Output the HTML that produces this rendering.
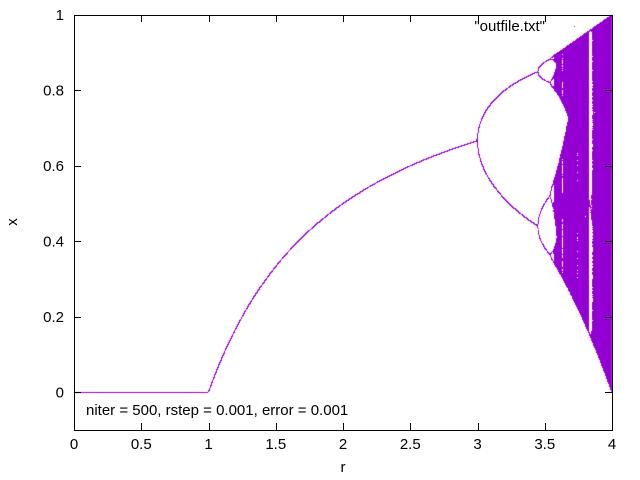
<!DOCTYPE html>
<html><head><meta charset="utf-8">
<style>
html,body{margin:0;padding:0;background:#fff;}
#wrap{position:relative;width:640px;height:480px;font-family:"Liberation Sans",sans-serif;}
svg,canvas{position:absolute;left:0;top:0;}
text{font-family:"Liberation Sans",sans-serif;font-size:15px;fill:#000;}
</style></head>
<body>
<div id="wrap">
<canvas id="cv" width="640" height="480"></canvas>
<svg id="sv" width="640" height="480"></svg>
</div>
<script>
// data parameters (as in the chart annotation)
const rRange = [0, 4];
const rStep = [0.001];
const nIter = [500];
const errTol = [0.001];
const xTicks = [0, 0.5, 1, 1.5, 2, 2.5, 3, 3.5, 4];
const xTickLabels = ["0","0.5","1","1.5","2","2.5","3","3.5","4"];
const yTicks = [0, 0.2, 0.4, 0.6, 0.8, 1];
const yTickLabels = ["0","0.2","0.4","0.6","0.8","1"];
const yRange = [-0.1, 1];

const L=74,R=612,T=15,B=430;
function sx(v){return L+(v-rRange[0])/(rRange[1]-rRange[0])*(R-L);}
function sy(v){return B-(v-yRange[0])/(yRange[1]-yRange[0])*(B-T);}

const cv=document.getElementById('cv');const ctx=cv.getContext('2d');
ctx.fillStyle='#9400d3';
const nR=Math.round((rRange[1]-rRange[0])/rStep[0]);
for(let i=0;i<=nR;i++){
  const r=rRange[0]+i*rStep[0];
  let x=0.5;
  for(let k=0;k<nIter[0];k++){x=r*x*(1-x);}
  const x0=x;
  for(let k=0;k<700;k++){
    x=r*x*(1-x);
    ctx.fillRect(Math.floor(sx(r)),Math.floor(sy(x)),1,1);
    if(k>0 && Math.abs(x-x0)<errTol[0]*0.01) break;
  }
}
ctx.fillRect(574,26,1,1);

const NS='http://www.w3.org/2000/svg';
const sv=document.getElementById('sv');
function mk(tag,attrs,txt){const e=document.createElementNS(NS,tag);for(const k in attrs)e.setAttribute(k,attrs[k]);if(txt!==undefined)e.textContent=txt;sv.appendChild(e);return e;}
let e=mk('rect',{x:L+0.5,y:T+0.5,width:R-L,height:B-T,fill:'none',stroke:'#000','stroke-width':1});


xTicks.forEach((v,i)=>{
  const X=Math.round(sx(v))+0.5;
  let t=mk('line',{x1:X,y1:B,x2:X,y2:B-7,stroke:'#000'});
  
  
  let t2=mk('line',{x1:X,y1:T,x2:X,y2:T+7,stroke:'#000'});
  
  
  let l=mk('text',{x:sx(v),y:B+19,'text-anchor':'middle'},xTickLabels[i]);
  
  
});
yTicks.forEach((v,i)=>{
  const Y=Math.round(sy(v))+0.5;
  let t=mk('line',{x1:L,y1:Y,x2:L+7,y2:Y,stroke:'#000'});
  
  
  let t2=mk('line',{x1:R,y1:Y,x2:R-7,y2:Y,stroke:'#000'});
  
  
  let l=mk('text',{x:L-10,y:sy(v)+5,'text-anchor':'end'},yTickLabels[i]);
  
  
});
e=mk('text',{x:343,y:472,'text-anchor':'middle'},'r');


e=mk('text',{x:17,y:222,'text-anchor':'middle',transform:'rotate(-90 17 222)'},'x');


e=mk('text',{x:86,y:415,'font-size':'15.5'},'niter = 500, rstep = 0.001, error = 0.001');


e=mk('text',{x:545,y:31,'text-anchor':'end','font-size':'15.5'},'"outfile.txt"');


</script>
</body></html>
